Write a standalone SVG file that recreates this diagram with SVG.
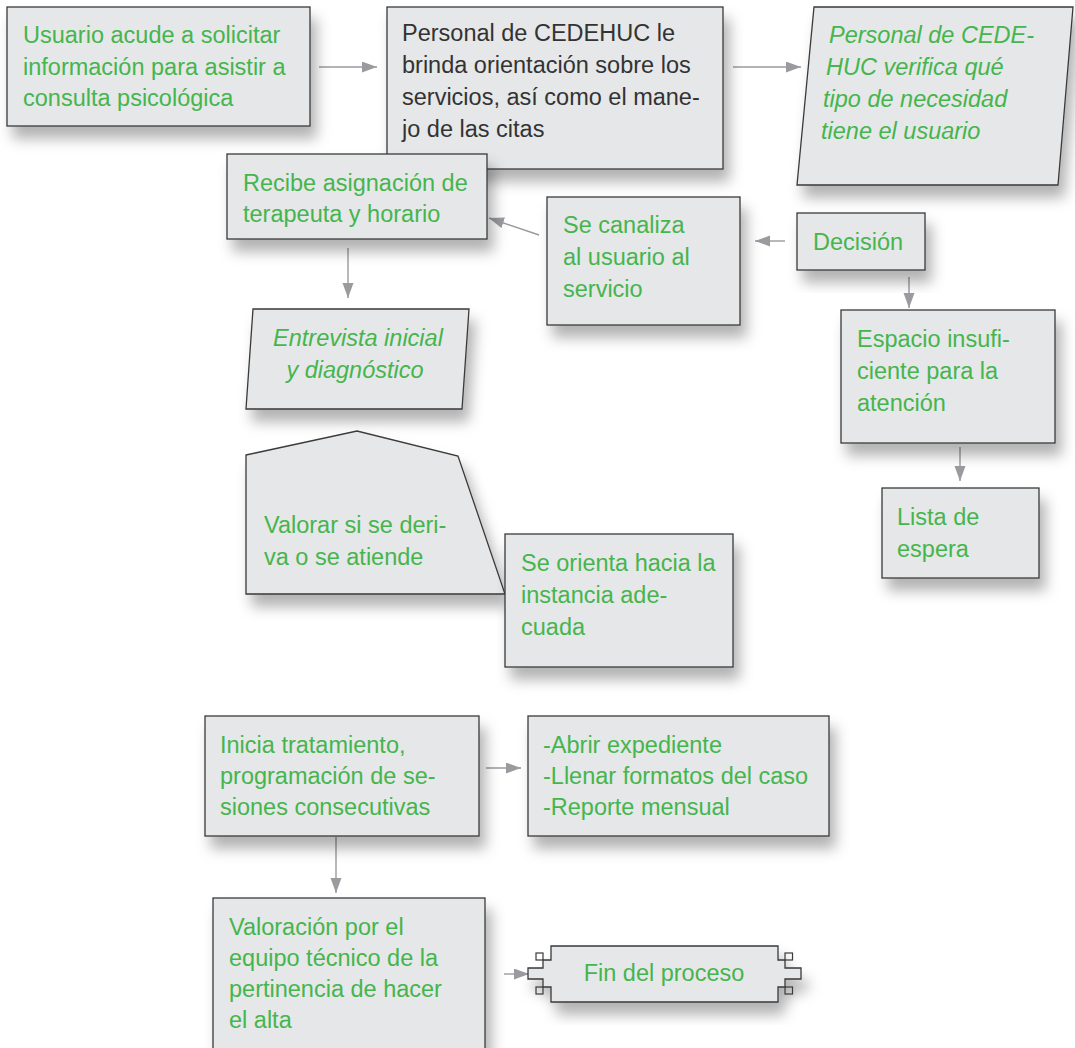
<svg xmlns="http://www.w3.org/2000/svg" width="1075" height="1048" viewBox="0 0 1075 1048">
<defs>
<style>
.n{fill:#e6e7e8;stroke:#3a3a3a;stroke-width:1.3;filter:url(#sh)}
.t{font-family:"Liberation Sans",Arial,sans-serif;font-size:23.5px;fill:#45b54d}
.d{fill:#333333}
.i{font-style:italic}
.c{stroke:#9a9b9e;stroke-width:1.4;fill:none;marker-end:url(#ah)}
.sq{fill:none;stroke:#3a3a3a;stroke-width:1.2}
</style>
<filter id="sh" x="-20%" y="-20%" width="150%" height="160%">
<feDropShadow dx="6" dy="12" stdDeviation="7" flood-color="#000" flood-opacity="0.3"/>
</filter>
<marker id="ah" markerUnits="userSpaceOnUse" markerWidth="16" markerHeight="12" refX="15" refY="5.5" orient="auto">
<path d="M0,0 L15,5.5 L0,11 Z" fill="#9a9b9e"/>
</marker>
</defs>
<rect width="1075" height="1048" fill="#ffffff"/>

<g id="connectors">
<line class="c" x1="319" y1="67" x2="377" y2="67"/>
<line class="c" x1="733" y1="67" x2="801" y2="67"/>
<line class="c" x1="785" y1="241" x2="755" y2="241"/>
<line class="c" x1="539" y1="235" x2="489" y2="218"/>
<line class="c" x1="348" y1="248" x2="348" y2="298"/>
<line class="c" x1="909" y1="277" x2="909" y2="308"/>
<line class="c" x1="960" y1="447" x2="960" y2="481"/>
<line class="c" x1="486" y1="768" x2="521" y2="768"/>
<line class="c" x1="336" y1="837" x2="336" y2="893"/>
<line class="c" x1="504" y1="974" x2="529" y2="974"/>
</g>

<g id="n1">
<rect class="n" x="7" y="7" width="303" height="119"/>
<text class="t"><tspan x="23" y="43">Usuario acude a solicitar</tspan><tspan x="23" y="75">información para asistir a</tspan><tspan x="23" y="106">consulta psicológica</tspan></text>
</g>

<g id="n2">
<rect class="n" x="387" y="7" width="336" height="162"/>
<text class="t d"><tspan x="402" y="41">Personal de CEDEHUC le</tspan><tspan x="402" y="73">brinda orientación sobre los</tspan><tspan x="402" y="105">servicios, así como el mane-</tspan><tspan x="402" y="137">jo de las citas</tspan></text>
</g>

<g id="n3">
<polygon class="n" points="814,7 1073,7 1058,185 797,185"/>
<text class="t i"><tspan x="829" y="43">Personal de CEDE-</tspan><tspan x="826" y="75">HUC verifica qué</tspan><tspan x="823" y="107">tipo de necesidad</tspan><tspan x="821" y="139">tiene el usuario</tspan></text>
</g>

<g id="n4">
<rect class="n" x="227" y="154" width="260" height="85"/>
<text class="t"><tspan x="243" y="191">Recibe asignación de</tspan><tspan x="243" y="222">terapeuta y horario</tspan></text>
</g>

<g id="n5">
<rect class="n" x="547" y="197" width="193" height="128"/>
<text class="t"><tspan x="563" y="233">Se canaliza</tspan><tspan x="563" y="265">al usuario al</tspan><tspan x="563" y="297">servicio</tspan></text>
</g>

<g id="n6">
<rect class="n" x="797" y="213" width="128" height="57"/>
<text class="t" x="813" y="250">Decisión</text>
</g>

<g id="n7">
<polygon class="n" points="253,309 469,309 462,409 246,409"/>
<text class="t i" text-anchor="middle"><tspan x="358" y="346">Entrevista inicial</tspan><tspan x="355" y="378">y diagnóstico</tspan></text>
</g>

<g id="n8">
<rect class="n" x="841" y="310" width="214" height="133"/>
<text class="t"><tspan x="857" y="347">Espacio insufi-</tspan><tspan x="857" y="379">ciente para la</tspan><tspan x="857" y="411">atención</tspan></text>
</g>

<g id="n9">
<rect class="n" x="882" y="488" width="157" height="90"/>
<text class="t"><tspan x="897" y="525">Lista de</tspan><tspan x="897" y="557">espera</tspan></text>
</g>

<g id="n10">
<polygon class="n" points="246,455 357,431 458,456 505,594 246,594"/>
<text class="t"><tspan x="264" y="533">Valorar si se deri-</tspan><tspan x="264" y="565">va o se atiende</tspan></text>
</g>

<g id="n11">
<rect class="n" x="505" y="534" width="228" height="133"/>
<text class="t"><tspan x="521" y="571">Se orienta hacia la</tspan><tspan x="521" y="603">instancia ade-</tspan><tspan x="521" y="635">cuada</tspan></text>
</g>

<g id="n12">
<rect class="n" x="205" y="716" width="274" height="120"/>
<text class="t"><tspan x="220" y="753">Inicia tratamiento,</tspan><tspan x="220" y="784">programación de se-</tspan><tspan x="220" y="815">siones consecutivas</tspan></text>
</g>

<g id="n13">
<rect class="n" x="528" y="716" width="301" height="120"/>
<text class="t"><tspan x="543" y="753">-Abrir expediente</tspan><tspan x="543" y="784">-Llenar formatos del caso</tspan><tspan x="543" y="815">-Reporte mensual</tspan></text>
</g>

<g id="n14">
<rect class="n" x="213" y="898" width="272" height="170"/>
<text class="t"><tspan x="229" y="935">Valoración por el</tspan><tspan x="229" y="966">equipo técnico de la</tspan><tspan x="229" y="997">pertinencia de hacer</tspan><tspan x="229" y="1028">el alta</tspan></text>
</g>

<g id="n15">
<path class="n" d="M551,946 H778 V960 H785 V968 H801 V979 H785 V987 H778 V1002 H551 V987 H543 V979 H528 V968 H543 V960 H551 Z"/>
<rect class="sq" x="536" y="953" width="7" height="7"/>
<rect class="sq" x="536" y="987" width="7" height="7"/>
<rect class="sq" x="785" y="953" width="7.5" height="7"/>
<rect class="sq" x="785" y="987" width="7.5" height="7"/>
<text class="t" x="664" y="981" text-anchor="middle">Fin del proceso</text>
</g>
</svg>
